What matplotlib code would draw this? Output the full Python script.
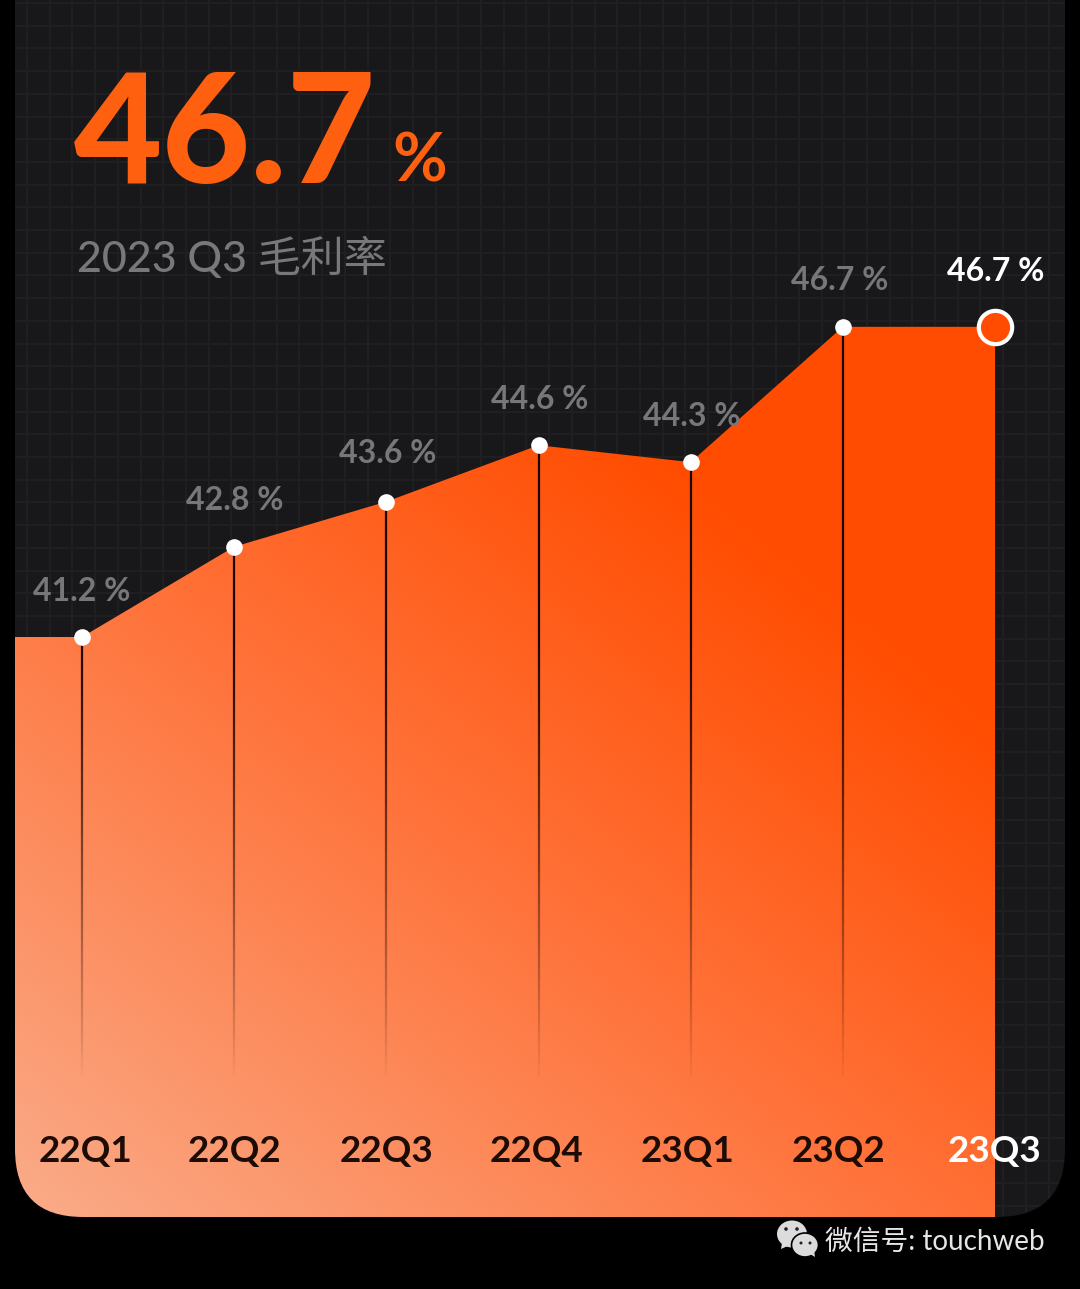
import numpy as np
import matplotlib
matplotlib.use('Agg')
import matplotlib.pyplot as plt
from matplotlib.patches import Polygon, PathPatch, Ellipse, Circle
from matplotlib.path import Path

quarters = ['22Q1', '22Q2', '22Q3', '22Q4', '23Q1', '23Q2', '23Q3']
margin = [41.2, 42.8, 43.6, 44.6, 44.3, 46.7, 46.7]
value_labels = ['41.2 %', '42.8 %', '43.6 %', '44.6 %', '44.3 %', '46.7 %', '46.7 %']
headline = '46.7'
subtitle = '2023 Q3 毛利率'
watermark = '微信号: touchweb'

W, H = 1080, 1289
FONT = ['Lato', 'Noto Sans CJK SC', 'DejaVu Sans']
plt.rcParams['font.family'] = FONT

# pixel layout of the scale
x0_px, x_step = 82.0, 152.17
y0_px, y_step = 637.0, 56.4
xlim = ((0 - x0_px) / x_step, (W - x0_px) / x_step)
ylim = (margin[0] - (H - y0_px) / y_step, margin[0] + y0_px / y_step)
panel_l, panel_r, panel_b, radius = 15, 1065, 1217, 68

fig = plt.figure(figsize=(W / 100, H / 100), dpi=100, facecolor='black')

# background panel and grid, pixel coordinates
bg = fig.add_axes([0, 0, 1, 1], zorder=0)
bg.set_xlim(0, W)
bg.set_ylim(H, 0)
bg.axis('off')
bg.fill_between([panel_l, panel_r], 0, panel_b, color='#18181a', lw=0)
for gx in np.arange(panel_l + 12, panel_r, 22.7):
    bg.plot([gx, gx], [0, panel_b], color='#202022', lw=1.3)
for gy in np.arange(3, panel_b, 22.7):
    bg.plot([panel_l, panel_r], [gy, gy], color='#202022', lw=1.3)

# data axes
ax = fig.add_axes([0, 0, 1, 1], zorder=1)
ax.axis('off')

xpos = np.arange(len(quarters))
bottom_val = margin[0] - (panel_b - y0_px) / y_step
poly_x = [xlim[0]] + list(xpos) + [xpos[-1], xlim[0]]
poly_y = [margin[0]] + margin + [bottom_val, bottom_val]
poly = Polygon(np.column_stack([poly_x, poly_y]), closed=True, fc='none', ec='none')
ax.add_patch(poly)

# diagonal gradient for the area
yy, xx = np.mgrid[0:H:2, 0:W:2]
t = ((xx - 15) * 0.62 + (1217 - yy) * 0.78) / 1000.0
t = np.clip(t, 0, 1)[..., None]
c_low = np.array([250, 172, 138]) / 255
c_mid = np.array([255, 116, 60]) / 255
c_high = np.array([255, 76, 0]) / 255
grad = np.where(t < 0.55, c_low + (c_mid - c_low) * t / 0.55,
                c_mid + (c_high - c_mid) * (t - 0.55) / 0.45)
im = ax.imshow(grad, extent=[xlim[0], xlim[1], ylim[0], ylim[1]], origin='upper',
               aspect='auto', zorder=1)
im.set_clip_path(poly)
ax.set_xlim(*xlim)
ax.set_ylim(*ylim)

# drop lines that fade towards the bottom
fade_end = margin[0] - (1075 - y0_px) / y_step
for i in range(len(quarters) - 1):
    steps = np.linspace(margin[i], fade_end, 60)
    for k in range(len(steps) - 1):
        frac = (steps[k] - fade_end) / (margin[0] - fade_end)
        ax.plot([xpos[i], xpos[i]], [steps[k], steps[k + 1]], color='#1a0500',
                lw=1.6, alpha=min(1, max(0, frac)) ** 0.9, solid_capstyle='butt', zorder=2)

ax.plot(xpos[:-1], margin[:-1], 'o', ms=12, color='white', mec='none', zorder=3)
ax.plot(xpos[-1], margin[-1], 'o', ms=24, mfc='#ff4c00', mec='white', mew=3, zorder=3)

# value labels
offsets = [(0, 45), (1, 46), (1, 48), (1, 46), (1, 46), (-3, 46), (1, 55)]
for i, lab in enumerate(value_labels):
    last = i == len(value_labels) - 1
    ax.annotate(lab, (xpos[i], margin[i]),
                xytext=(offsets[i][0] * 0.72, offsets[i][1] * 0.72), textcoords='offset points',
                ha='center', va='center', fontsize=23,
                color='white' if last else '#77777b',
                fontweight='bold', zorder=4)

# quarter labels
label_dx = [3, 0, 0, -2, -3, -4, -1]
label_y = margin[0] - (1152 - y0_px) / y_step
for i, q in enumerate(quarters):
    ax.annotate(q, (xpos[i], label_y), xytext=(label_dx[i] * 0.72, 0), textcoords='offset points',
                ha='center', va='center', fontsize=26.5, fontweight='bold',
                color='white' if i == len(quarters) - 1 else '#1d0c06', zorder=4)

# foreground: mask for rounded corners, title, watermark
fg = fig.add_axes([0, 0, 1, 1], zorder=2)
fg.set_xlim(0, W)
fg.set_ylim(H, 0)
fg.axis('off')

r = radius
outer = [(0, 0), (W, 0), (W, H), (0, H), (0, 0)]
inner = [(panel_l, -5), (panel_l, panel_b - r), (panel_l, panel_b), (panel_l + r, panel_b),
         (panel_r - r, panel_b), (panel_r, panel_b), (panel_r, panel_b - r), (panel_r, -5), (panel_l, -5)]
codes = [Path.MOVETO, Path.LINETO, Path.LINETO, Path.LINETO, Path.CLOSEPOLY,
         Path.MOVETO, Path.LINETO, Path.CURVE3, Path.CURVE3, Path.LINETO,
         Path.CURVE3, Path.CURVE3, Path.LINETO, Path.CLOSEPOLY]
fg.add_patch(PathPatch(Path(outer + inner, codes), fc='black', ec='none'))

fg.text(74, 183, headline, fontsize=110, fontweight='black', color='#ff6010', ha='left', va='baseline')
fg.text(392, 181, '%', fontsize=48, fontweight='bold', color='#ff6010', ha='left', va='baseline')
fg.text(77, 272, subtitle, fontsize=31, fontweight='medium', color='#78787c', ha='left', va='baseline')

# wechat icon
fg.add_patch(Ellipse((792, 1234), 30, 27, fc='#dcdcdc', ec='none'))
fg.add_patch(Polygon([(782, 1243), (781, 1249), (790, 1245)], fc='#dcdcdc', ec='none'))
fg.add_patch(Ellipse((805, 1245), 27, 24, fc='#dcdcdc', ec='black', lw=1.2))
fg.add_patch(Polygon([(810, 1254), (815, 1257), (814, 1250)], fc='#dcdcdc', ec='none'))
for ex, ey, er in [(786, 1229, 1.8), (797, 1229, 1.8), (801, 1243, 1.5), (810, 1243, 1.5)]:
    fg.add_patch(Circle((ex, ey), er, fc='#222222', ec='none'))
fg.text(825, 1242, watermark, fontsize=20, color='#e6e6e6', ha='left', va='center')

fig.savefig('out.png', dpi=100, facecolor='black')
